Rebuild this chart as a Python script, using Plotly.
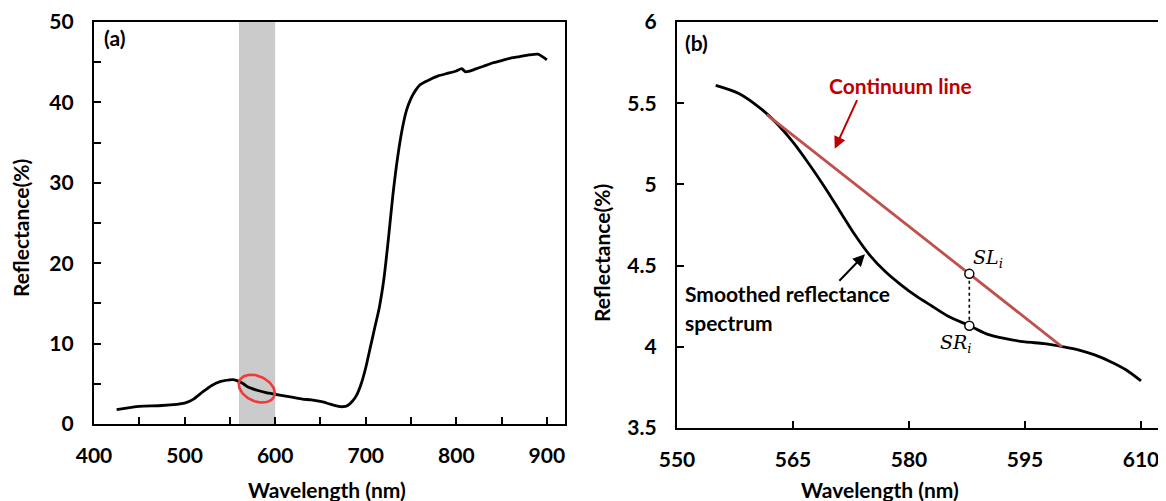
import numpy as np
import plotly.graph_objects as go

# ---------------- data ----------------
# Panel (a): full reflectance spectrum
wl_a = [425, 450, 475, 500, 510, 520, 530, 540, 550, 555, 560, 565, 570, 580, 590,
        600, 610, 620, 630, 640, 650, 660, 670, 675, 680, 685, 690, 695, 700, 705,
        710, 715, 720, 725, 730, 735, 740, 745, 750, 755, 760, 770, 780, 790, 800,
        806, 810, 815, 820, 830, 840, 850, 860, 870, 880, 890, 895, 900]
refl_a = [1.8, 2.2, 2.3, 2.6, 3.1, 4.0, 4.8, 5.3, 5.5, 5.5, 5.3, 5.0, 4.6, 4.2, 3.9,
          3.7, 3.5, 3.3, 3.1, 3.0, 2.8, 2.5, 2.2, 2.15, 2.3, 2.8, 3.6, 5.0, 7.0, 9.5,
          12.0, 14.5, 18.0, 23.0, 28.5, 33.0, 36.5, 39.0, 40.5, 41.5, 42.2, 42.8, 43.3, 43.6, 43.9,
          44.2, 43.8, 43.9, 44.1, 44.5, 44.9, 45.2, 45.5, 45.7, 45.9, 46.0, 45.7, 45.3]
band_a = [560, 600]            # highlighted wavelength window
ellipse_center = [579.7, 4.4]  # red ellipse centre (nm, %)

# Panel (b): smoothed spectrum in the window
wl_b = [555, 558, 561, 563, 565, 567, 569, 571, 573, 575, 577, 579, 581, 583, 585,
        587.8, 590, 592.5, 595, 597.5, 600, 602, 604, 606, 608, 610]
refl_b = [5.61, 5.56, 5.46, 5.37, 5.26, 5.13, 4.99, 4.84, 4.69, 4.56, 4.46, 4.38, 4.31, 4.25, 4.19,
          4.13, 4.08, 4.05, 4.03, 4.02, 4.00, 3.98, 3.95, 3.91, 3.86, 3.79]
cont_wl = [561.6, 599.8]
cont_refl = [5.43, 4.00]
pt_wl = 587.8
sr_val = 4.13
sl_val = cont_refl[0] + (pt_wl - cont_wl[0]) / (cont_wl[1] - cont_wl[0]) * (cont_refl[1] - cont_refl[0])

# page has an 8px body margin, so the figure is sized/placed to compensate
OFF = 8
W, H = 1166 - OFF, 501 - OFF
def px(x):
    return (x - OFF) / W
def py(y):
    return 1 - (y - OFF) / H

FONT = "Lato"
FS = 21
TICKFONT = dict(family=FONT, size=FS, color="black", weight="bold")

# panel pixel geometry (screen coords)
ax_l, ax_r = 94, 565
bx_l, bx_r = 677, 1166
a_top, a_bot = 22, 424
b_top, b_bot = 22, 428
xa_range = [400, 920]
ya_range = [0, 50]
xb_range = [550, 550 + (bx_r - bx_l) / ((1141 - 677) / 60)]
yb_range = [3.5, 6]

fig = go.Figure()

# gray band
fig.add_shape(type="rect", xref="x", yref="y domain", x0=band_a[0], x1=band_a[1], y0=0, y1=1,
              fillcolor="#cbcbcb", line_width=0, layer="below")

fig.add_trace(go.Scatter(x=wl_a, y=refl_a, mode="lines", line=dict(color="black", width=2.8, shape="spline", smoothing=0.6),
                         xaxis="x", yaxis="y", showlegend=False, hoverinfo="skip"))

# red ellipse (tilted) computed in pixel space
pxx = (ax_r - ax_l) / (xa_range[1] - xa_range[0])
pxy = (a_bot - a_top) / (ya_range[1] - ya_range[0])
t = np.linspace(0, 2 * np.pi, 100)
a_s, b_s, th = 19.0, 12.5, np.deg2rad(25)
ex = ellipse_center[0] + (a_s * np.cos(t) * np.cos(th) - b_s * np.sin(t) * np.sin(th)) / pxx
ey = ellipse_center[1] - (a_s * np.cos(t) * np.sin(th) + b_s * np.sin(t) * np.cos(th)) / pxy
fig.add_trace(go.Scatter(x=ex, y=ey, mode="lines", line=dict(color="#f03a3a", width=2.6),
                         xaxis="x", yaxis="y", showlegend=False, hoverinfo="skip"))

# panel b
fig.add_trace(go.Scatter(x=wl_b, y=refl_b, mode="lines", line=dict(color="black", width=2.8, shape="spline", smoothing=0.8),
                         xaxis="x2", yaxis="y2", showlegend=False, hoverinfo="skip"))
fig.add_trace(go.Scatter(x=cont_wl, y=cont_refl, mode="lines", line=dict(color="#c0504d", width=2.8),
                         xaxis="x2", yaxis="y2", showlegend=False, hoverinfo="skip"))
fig.add_trace(go.Scatter(x=[pt_wl, pt_wl], y=[sr_val, sl_val], mode="lines",
                         line=dict(color="black", width=1.6, dash="dot"),
                         xaxis="x2", yaxis="y2", showlegend=False, hoverinfo="skip"))
fig.add_trace(go.Scatter(x=[pt_wl, pt_wl], y=[sr_val, sl_val], mode="markers",
                         marker=dict(color="white", size=9, line=dict(color="black", width=1.5)),
                         xaxis="x2", yaxis="y2", showlegend=False, hoverinfo="skip"))

axis_common = dict(showgrid=False, zeroline=False, showline=True, linecolor="black", linewidth=2.2,
                   ticks="inside", tickcolor="black", tickwidth=2.2, ticklen=7, tickfont=TICKFONT,
                   automargin=False)

fig.update_layout(
    width=W, height=H, margin=dict(l=0, r=0, t=0, b=0, autoexpand=False),
    paper_bgcolor="white", plot_bgcolor="rgba(0,0,0,0)",
    xaxis=dict(domain=[px(ax_l), px(ax_r)], range=xa_range, tick0=400, dtick=100, mirror=True,
               minor=dict(dtick=50, ticks="inside", ticklen=7, tickcolor="black", tickwidth=2.2),
               anchor="y", ticklabelstandoff=12, **axis_common),
    yaxis=dict(domain=[py(a_bot), py(a_top)], range=ya_range, dtick=10, mirror=True,
               minor=dict(dtick=5, ticks="inside", ticklen=7, tickcolor="black", tickwidth=2.2),
               anchor="x", ticklabelstandoff=14, **axis_common),
    xaxis2=dict(domain=[px(bx_l), 1.0], range=xb_range, tick0=550, dtick=15, mirror=True,
                anchor="y2", ticklabelstandoff=12, **axis_common),
    yaxis2=dict(domain=[py(b_bot), py(b_top)], range=yb_range, dtick=0.5,
                anchor="x2", ticklabelstandoff=14, **axis_common),
)

bold = dict(family=FONT, size=FS, color="black", weight="bold")
ann = []
# axis titles
ann.append(dict(text="Wavelength (nm)", xref="paper", yref="paper", x=px(327), y=py(489),
                showarrow=False, font=bold, xanchor="center", yanchor="middle"))
ann.append(dict(text="Wavelength (nm)", xref="paper", yref="paper", x=px(880), y=py(489),
                showarrow=False, font=bold, xanchor="center", yanchor="middle"))
ann.append(dict(text="Reflectance(%)", xref="paper", yref="paper", x=px(21), y=py(228),
                showarrow=False, font=bold, textangle=-90, xanchor="center", yanchor="middle"))
ann.append(dict(text="Reflectance(%)", xref="paper", yref="paper", x=px(601), y=py(253),
                showarrow=False, font=bold, textangle=-90, xanchor="center", yanchor="middle"))
# panel labels
ann.append(dict(text="(a)", xref="paper", yref="paper", x=px(102), y=py(38),
                showarrow=False, font=bold, xanchor="left", yanchor="middle"))
ann.append(dict(text="(b)", xref="paper", yref="paper", x=px(683), y=py(42),
                showarrow=False, font=bold, xanchor="left", yanchor="middle"))

# panel b annotations
ann.append(dict(text="Continuum line", xref="paper", yref="paper", x=px(900), y=py(85),
                showarrow=False, font=dict(family=FONT, size=FS, color="#c00000", weight="bold"),
                xanchor="center", yanchor="middle"))
ann.append(dict(text="", xref="x2", yref="y2", x=570.4, y=5.22, ax=23, ay=-50, axref="pixel", ayref="pixel",
                showarrow=True, arrowhead=2, arrowsize=1.2, arrowwidth=2, arrowcolor="#c00000"))
ann.append(dict(text="Smoothed reflectance", xref="paper", yref="paper", x=px(683), y=py(293),
                showarrow=False, font=bold, xanchor="left", yanchor="middle"))
ann.append(dict(text="spectrum", xref="paper", yref="paper", x=px(683), y=py(322),
                showarrow=False, font=bold, xanchor="left", yanchor="middle"))
ann.append(dict(text="", xref="x2", yref="y2", x=574.3, y=4.57, ax=-27, ay=28, axref="pixel", ayref="pixel",
                showarrow=True, arrowhead=2, arrowsize=1.2, arrowwidth=2, arrowcolor="black"))
ann.append(dict(text="<i>SL<sub>i</sub></i>", xref="paper", yref="paper", x=px(971), y=py(258),
                showarrow=False, font=dict(family="DejaVu Serif", size=19, color="black"), xanchor="left", yanchor="middle"))
ann.append(dict(text="<i>SR<sub>i</sub></i>", xref="paper", yref="paper", x=px(938), y=py(343),
                showarrow=False, font=dict(family="DejaVu Serif", size=19, color="black"), xanchor="left", yanchor="middle"))

fig.update_layout(annotations=ann)
fig.write_html("out.html")
